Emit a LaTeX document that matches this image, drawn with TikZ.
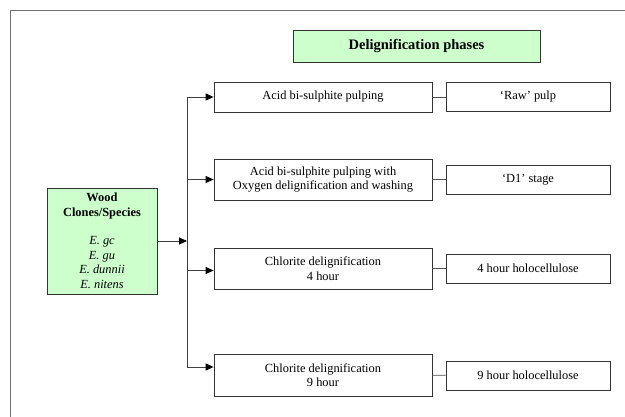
\documentclass[tikz,border=0pt]{standalone}
\usepackage{fontspec}
\setmainfont{Liberation Serif}
\usetikzlibrary{arrows.meta}
\definecolor{paleGreen}{HTML}{CCFFCC}
\definecolor{frameGray}{HTML}{707070}

\begin{document}
\begin{tikzpicture}[x=1pt,y=1pt,
    box/.style={draw=black!80,line width=0.8pt,fill=white,align=center,inner sep=1pt,
                font=\fontsize{12.4}{14.5}\selectfont},
    stagebox/.style={box,minimum width=218pt},
    resultbox/.style={box,minimum width=164pt,minimum height=29pt},
    greenbox/.style={box,fill=paleGreen},
    branch/.style={draw=black!75,line width=0.9pt,-{Triangle[length=8pt,width=7pt,color=black]}},
    link/.style={draw=black!70,line width=0.9pt}]
\useasboundingbox (0,0) rectangle (625,417);
% frame round the figure
\draw[frameGray,line width=1.2pt] (10.5,0) -- (10.5,406.5) -- (625,406.5);

% headings
\node[greenbox,minimum width=247pt,minimum height=32pt,font=\fontsize{14.5}{16}\selectfont\bfseries]
    (phases) at (416.5,371) {Delignification phases};
\node[greenbox,minimum width=110pt,minimum height=106pt] (wood) at (102,176)
    {\textbf{Wood}\\ \textbf{Clones/Species}\\[14pt] \textit{E. gc}\\ \textit{E. gu}\\ \textit{E. dunnii}\\ \textit{E. nitens}};

% process stages
\node[stagebox,minimum height=30pt] (acid)     at (323,320)   {Acid bi-sulphite pulping};
\node[stagebox,minimum height=41pt] (oxygen)   at (323,237.5) {Acid bi-sulphite pulping with\\ Oxygen delignification and washing};
\node[stagebox,minimum height=41pt] (chlorfour) at (323,148.5) {Chlorite delignification\\ 4 hour};
\node[stagebox,minimum height=42pt] (chlornine) at (323,42)    {Chlorite delignification\\ 9 hour};

% products
\node[resultbox] (raw)      at (528,320)   {`Raw' pulp};
\node[resultbox] (done)     at (528,237.5) {`D1' stage};
\node[resultbox] (holofour) at (528,148.5) {4 hour holocellulose};
\node[resultbox] (holonine) at (528,41.5)  {9 hour holocellulose};

% connectors
\coordinate (trunk) at (187,176);
\draw[branch] (wood) -- (trunk);
\draw[branch] (trunk) |- (acid);
\draw[branch] (trunk) |- (oxygen);
\draw[branch] (trunk) |- ([yshift=-2pt]chlorfour.west);
\draw[branch] (trunk) |- ([yshift=8pt]chlornine.west);
\draw[link] (acid) -- (raw);
\draw[link] (oxygen) -- (done);
\draw[link] (chlorfour) -- (holofour);
\draw[link] (chlornine) -- (holonine);
\end{tikzpicture}
\end{document}
